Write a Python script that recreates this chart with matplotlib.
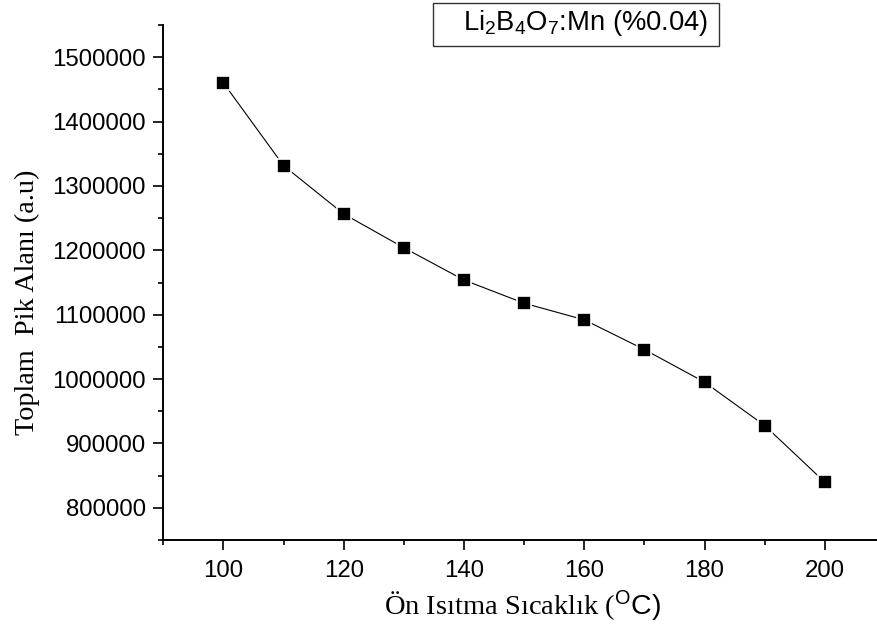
import matplotlib
matplotlib.use("Agg")
import matplotlib.pyplot as plt
from matplotlib.patches import Rectangle
from matplotlib.ticker import MultipleLocator

plt.rcParams['mathtext.fontset'] = 'custom'
plt.rcParams['mathtext.rm'] = 'Liberation Sans'
plt.rcParams['mathtext.sf'] = 'Liberation Sans'
plt.rcParams['mathtext.it'] = 'Liberation Sans:italic'

temperature = [100, 110, 120, 130, 140, 150, 160, 170, 180, 190, 200]
peak_area = [1460000, 1331500, 1256500, 1204000, 1153800, 1117800, 1092000,
             1045800, 995200, 927800, 839800]

x_label = "Ön Isıtma Sıcaklık ("
y_label = "Toplam  Pik Alanı (a.u)"
legend_text = r"Li$_\mathsf{2}$B$_\mathsf{4}$O$_\mathsf{7}$:Mn (%0.04)"

W, H = 878, 635
fig = plt.figure(figsize=(W / 100, H / 100), dpi=100)
ax = fig.add_axes([163.3 / W, 1 - 540 / H, (885 - 163.3) / W, (540 - 25) / H])

ax.plot(temperature, peak_area, color='black', linewidth=0.8,
        marker='s', markersize=9.5, markerfacecolor='black',
        markeredgecolor='white', markeredgewidth=1.2)

ax.set_xlim(90, 210)
ax.set_ylim(750000, 1550000)
ax.xaxis.set_major_locator(MultipleLocator(20))
ax.xaxis.set_minor_locator(MultipleLocator(10))
ax.yaxis.set_major_locator(MultipleLocator(100000))
ax.yaxis.set_minor_locator(MultipleLocator(50000))

for s in ['top', 'right']:
    ax.spines[s].set_visible(False)
for s in ['left', 'bottom']:
    ax.spines[s].set_linewidth(1.4)

ax.tick_params(which='major', direction='out', length=7.2, width=1.2,
               labelsize=17.3, labelfontfamily='Liberation Sans')
ax.tick_params(which='minor', direction='out', length=3.6, width=1.2)
ax.tick_params(axis='y', which='major', pad=5.5)
ax.tick_params(axis='x', which='major', pad=7.5)
ax.yaxis.get_major_formatter().set_scientific(False)
ax.yaxis.get_major_formatter().set_useOffset(False)

# y label
fig.text(27 / W, 1 - 302 / H, y_label, rotation=90, ha='center', va='center',
         fontsize=20.3, family='Liberation Serif')

# x label: serif part + sans superscript part
fig.text(523 / W, 1 - 606 / H,
         x_label + r"$^\mathsf{O}$" + r"$\mathsf{C)}$",
         ha='center', va='center', fontsize=20.5, family='Liberation Serif')

# legend-like box
fig.patches.append(Rectangle((433 / W, 1 - 45.5 / H), (719 - 433) / W, 42.8 / H,
                             transform=fig.transFigure, fill=False,
                             edgecolor='#333333', linewidth=1.0))
fig.text(463 / W, 1 - 23 / H, legend_text, ha='left', va='center',
         fontsize=19.7, family='Liberation Sans')

fig.savefig("out.png", dpi=100)
